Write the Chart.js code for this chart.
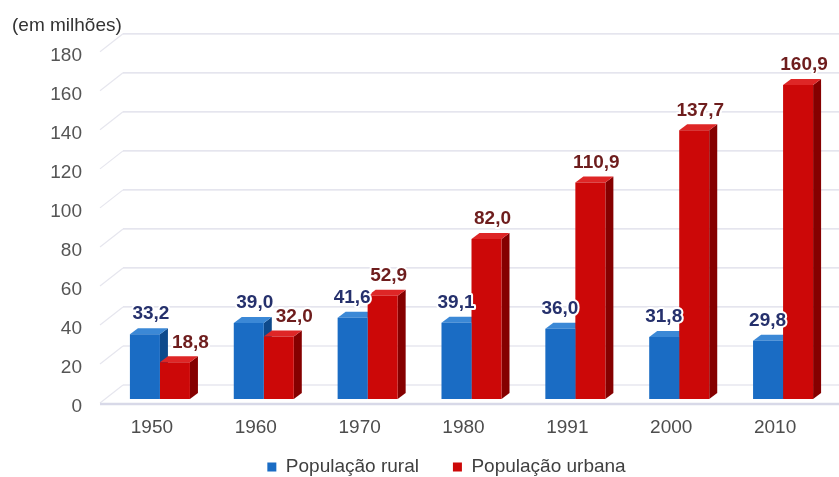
<!DOCTYPE html>
<html>
<head>
<meta charset="utf-8">
<script src="https://cdn.jsdelivr.net/npm/chart.js@4.4.1/dist/chart.umd.min.js"></script>
<style>
  html, body { margin: 0; padding: 0; background: #fff; }
  canvas { display: block; }
</style>
</head>
<body>
<canvas id="chart" width="839" height="477"></canvas>
<script>
const years = ["1950", "1960", "1970", "1980", "1991", "2000", "2010"];
const rural = [33.2, 39.0, 41.6, 39.1, 36.0, 31.8, 29.8];
const urban = [18.8, 32.0, 52.9, 82.0, 110.9, 137.7, 160.9];
const seriesNames = ["População rural", "População urbana"];
const unitLabel = "(em milhões)";
const yMax = 180;
const yStep = 20;

// bar colours: front face is drawn by Chart.js, side/top by the plugin below
const palette = [
  { front: "#1a6cc4", side: "#0e4a8c", top: "#3b88d6", label: "#25306c" },
  { front: "#cc0808", side: "#850000", top: "#de2626", label: "#6e1d1d" },
];

const DEPTH_X = 8;     // bar depth, projected
const DEPTH_Y = 6;
const WALL_X = 23;     // back wall offset for the grid
const WALL_Y = 18;
const LEGEND_PAD = 34;
const LEGEND_DX = 23;
const LEGEND_DY = -15.5;

const fmt = (v) => v.toFixed(1).replace(".", ",");

function barBox(bar) {
  const { x, y, base, width } = bar.getProps(["x", "y", "base", "width"], true);
  return { left: x - width / 2, right: x + width / 2, x, y, base, width };
}

const bars3d = {
  id: "bars3d",
  beforeDatasetsDraw(chart) {
    const { ctx, chartArea, scales } = chart;
    const ys = scales.y;
    const x0 = chartArea.left - 8;

    ctx.save();
    // back wall grid with short diagonals on the left
    for (const t of ys.ticks) {
      const py = ys.getPixelForValue(t.value);
      ctx.strokeStyle = "#e6e6ee";
      ctx.lineWidth = 1.2;
      ctx.beginPath();
      ctx.moveTo(x0, py + 4);
      ctx.lineTo(x0 + WALL_X, py + 4 - WALL_Y);
      ctx.stroke();
      ctx.strokeStyle = "#dcdce8";
      ctx.beginPath();
      ctx.moveTo(x0 + WALL_X, py + 4 - WALL_Y);
      ctx.lineTo(chart.width, py + 4 - WALL_Y);
      ctx.stroke();
    }
    // floor edge
    const floorY = ys.getPixelForValue(0) + 5;
    ctx.strokeStyle = "#d8d9e8";
    ctx.lineWidth = 2.5;
    ctx.beginPath();
    ctx.moveTo(x0, floorY);
    ctx.lineTo(chart.width, floorY);
    ctx.stroke();

    // side and top faces, left series first so the right one covers it
    chart.data.datasets.forEach((ds, d) => {
      const c = palette[d];
      chart.getDatasetMeta(d).data.forEach((bar) => {
        const b = barBox(bar);
        ctx.fillStyle = c.side;
        ctx.beginPath();
        ctx.moveTo(b.right, b.y);
        ctx.lineTo(b.right + DEPTH_X, b.y - DEPTH_Y);
        ctx.lineTo(b.right + DEPTH_X, b.base - DEPTH_Y);
        ctx.lineTo(b.right, b.base);
        ctx.closePath();
        ctx.fill();
        ctx.fillStyle = c.top;
        ctx.beginPath();
        ctx.moveTo(b.left, b.y);
        ctx.lineTo(b.left + DEPTH_X, b.y - DEPTH_Y);
        ctx.lineTo(b.right + DEPTH_X, b.y - DEPTH_Y);
        ctx.lineTo(b.right, b.y);
        ctx.closePath();
        ctx.fill();
      });
    });
    ctx.restore();
  },

  afterDatasetsDraw(chart) {
    const { ctx } = chart;
    ctx.save();
    ctx.font = "bold 19px 'Liberation Sans', Arial, sans-serif";
    ctx.textAlign = "center";
    ctx.textBaseline = "middle";
    ctx.lineJoin = "round";
    chart.data.datasets.forEach((ds, d) => {
      const meta = chart.getDatasetMeta(d);
      const otherMeta = chart.getDatasetMeta(1 - d);
      meta.data.forEach((bar, i) => {
        const text = fmt(ds.data[i]);
        const w = ctx.measureText(text).width;
        const b = barBox(bar);
        const o = barBox(otherMeta.data[i]);
        let cx = b.x + 6;
        const cy = b.y - 20;
        // keep the label off the neighbouring bar
        if (cy + 7 > o.y - DEPTH_Y) {
          if (d === 0) cx = Math.min(cx, o.left + 3 - w / 2);
          else cx = Math.max(cx, o.right + DEPTH_X + 4 + w / 2);
        }
        ctx.strokeStyle = "#fff";
        ctx.lineWidth = 4;
        ctx.strokeText(text, cx, cy);
        ctx.fillStyle = palette[d].label;
        ctx.fillText(text, cx, cy);
      });
    });
    ctx.restore();
  },
};

// legend sits a bit right of centre and close to the bottom edge
const legendNudge = {
  id: "legendNudge",
  afterLayout(chart) {
    const lg = chart.legend;
    lg.left += LEGEND_DX;
    lg.right += LEGEND_DX;
    lg.top += LEGEND_DY;
    lg.bottom += LEGEND_DY;
  },
};

Chart.defaults.font.family = "'Liberation Sans', Arial, sans-serif";

new Chart(document.getElementById("chart"), {
  type: "bar",
  data: {
    labels: years,
    datasets: [
      { label: seriesNames[0], data: rural, backgroundColor: palette[0].front },
      { label: seriesNames[1], data: urban, backgroundColor: palette[1].front },
    ],
  },
  options: {
    responsive: false,
    animation: false,
    datasets: { bar: { categoryPercentage: 0.578, barPercentage: 1, borderWidth: 0 } },
    layout: { padding: { left: 12, right: 4, top: 0, bottom: -25 } },
    scales: {
      x: {
        grid: { display: false, drawTicks: false },
        border: { display: false },
        ticks: { padding: 17, labelOffset: -8, maxRotation: 0, color: "#4d4d4d", font: { size: 19 } },
        afterFit(scale) { scale.height = 40; },
      },
      y: {
        min: 0,
        max: yMax,
        grid: { display: false, drawTicks: false },
        border: { display: false },
        ticks: { stepSize: yStep, padding: 26, labelOffset: 8, color: "#555", font: { size: 19 } },
        afterFit(scale) { scale.width = 96; },
      },
    },
    plugins: {
      title: {
        display: true,
        text: unitLabel,
        align: "start",
        color: "#333",
        font: { size: 19, weight: "normal" },
        padding: { top: 14, bottom: 11 },
      },
      legend: {
        position: "bottom",
        labels: { boxWidth: 9, boxHeight: 9, padding: LEGEND_PAD, color: "#404040", font: { size: 19 } },
      },
      tooltip: { enabled: false },
    },
  },
  plugins: [bars3d, legendNudge],
});
</script>
</body>
</html>
